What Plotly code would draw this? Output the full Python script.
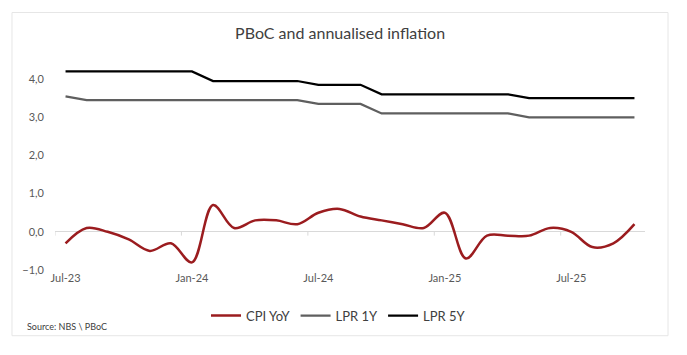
import plotly.graph_objects as go

months = ["Jul-23", "Aug-23", "Sep-23", "Oct-23", "Nov-23", "Dec-23",
          "Jan-24", "Feb-24", "Mar-24", "Apr-24", "May-24", "Jun-24",
          "Jul-24", "Aug-24", "Sep-24", "Oct-24", "Nov-24", "Dec-24",
          "Jan-25", "Feb-25", "Mar-25", "Apr-25", "May-25", "Jun-25",
          "Jul-25", "Aug-25", "Sep-25", "Oct-25"]
cpi_yoy = [-0.3, 0.1, 0.0, -0.2, -0.5, -0.3,
           -0.8, 0.7, 0.1, 0.3, 0.3, 0.2,
           0.5, 0.6, 0.4, 0.3, 0.2, 0.1,
           0.5, -0.7, -0.1, -0.1, -0.1, 0.1,
           0.0, -0.4, -0.3, 0.2]
lpr_1y = [3.55, 3.45, 3.45, 3.45, 3.45, 3.45,
          3.45, 3.45, 3.45, 3.45, 3.45, 3.45,
          3.35, 3.35, 3.35, 3.10, 3.10, 3.10,
          3.10, 3.10, 3.10, 3.10, 3.00, 3.00,
          3.00, 3.00, 3.00, 3.00]
lpr_5y = [4.20, 4.20, 4.20, 4.20, 4.20, 4.20,
          4.20, 3.95, 3.95, 3.95, 3.95, 3.95,
          3.85, 3.85, 3.85, 3.60, 3.60, 3.60,
          3.60, 3.60, 3.60, 3.60, 3.50, 3.50,
          3.50, 3.50, 3.50, 3.50]
tick_labels = ["Jul-23", "Jan-24", "Jul-24", "Jan-25", "Jul-25"]
y_ticks = [-1, 0, 1, 2, 3, 4]

FONT = "Lato, 'Open Sans', sans-serif"

fig = go.Figure()
fig.add_trace(go.Scatter(x=months, y=cpi_yoy, name="CPI YoY", mode="lines",
                         line=dict(color="#9b1c1f", width=2.5, shape="spline")))
fig.add_trace(go.Scatter(x=months, y=lpr_1y, name="LPR 1Y", mode="lines",
                         line=dict(color="#5f5f5f", width=2.25)))
fig.add_trace(go.Scatter(x=months, y=lpr_5y, name="LPR 5Y", mode="lines",
                         line=dict(color="#000000", width=2.25)))

# category tick marks on the zero line (between categories, every 6 months)
for i in range(0, len(months), 6):
    fig.add_shape(type="line", xref="x", yref="y", x0=i - 0.5, x1=i - 0.5,
                  y0=0, y1=-0.1, line=dict(color="#d9d9d9", width=1), layer="below")

# chart border
fig.add_shape(type="rect", xref="paper", yref="paper",
              x0=-0.0729, x1=1.039, y0=-0.313, y1=1.226,
              line=dict(color="#e6e6e6", width=1), fillcolor="rgba(0,0,0,0)")

fig.add_annotation(text="Source: NBS \\ PBoC", xref="paper", yref="paper",
                   x=-0.051, y=-0.270, xanchor="left", yanchor="middle",
                   showarrow=False, font=dict(family=FONT, size=9, color="#404040"))

fig.update_layout(
    width=687, height=355,
    margin=dict(l=55, r=42, t=60, b=85, autoexpand=False),
    paper_bgcolor="white", plot_bgcolor="white",
    separators=",.",
    font=dict(family=FONT, color="#595959"),
    title=dict(text="PBoC and annualised inflation", x=0.495, xanchor="center",
               y=1 - 33 / 355, yref="container", yanchor="middle",
               font=dict(family=FONT, size=16, color="#404040")),
    showlegend=True,
    legend=dict(orientation="h", x=0.4805, xanchor="center", y=-0.217, yanchor="middle",
                font=dict(family=FONT, size=13, color="#404040"),
                itemwidth=30, tracegroupgap=0, bgcolor="rgba(0,0,0,0)"),
    xaxis=dict(type="category", categoryorder="array", categoryarray=months,
               range=[-0.5, len(months) - 0.5],
               tickmode="array", tickvals=tick_labels, ticktext=tick_labels,
               showgrid=False, showline=False, zeroline=False, ticks="",
               automargin=False,
               tickfont=dict(family=FONT, size=11, color="#595959")),
    yaxis=dict(range=[-1, 4.5], tickmode="array", tickvals=y_ticks,
               tickformat=".1f", showgrid=False, showline=False,
               zeroline=True, zerolinecolor="#d9d9d9", zerolinewidth=1,
               ticks="", ticklabelstandoff=10, automargin=False,
               tickfont=dict(family=FONT, size=11, color="#595959")),
)

fig.write_html("out.html",
               config={"displayModeBar": False},
               post_script="document.body.style.margin='0';document.body.style.padding='0';")
